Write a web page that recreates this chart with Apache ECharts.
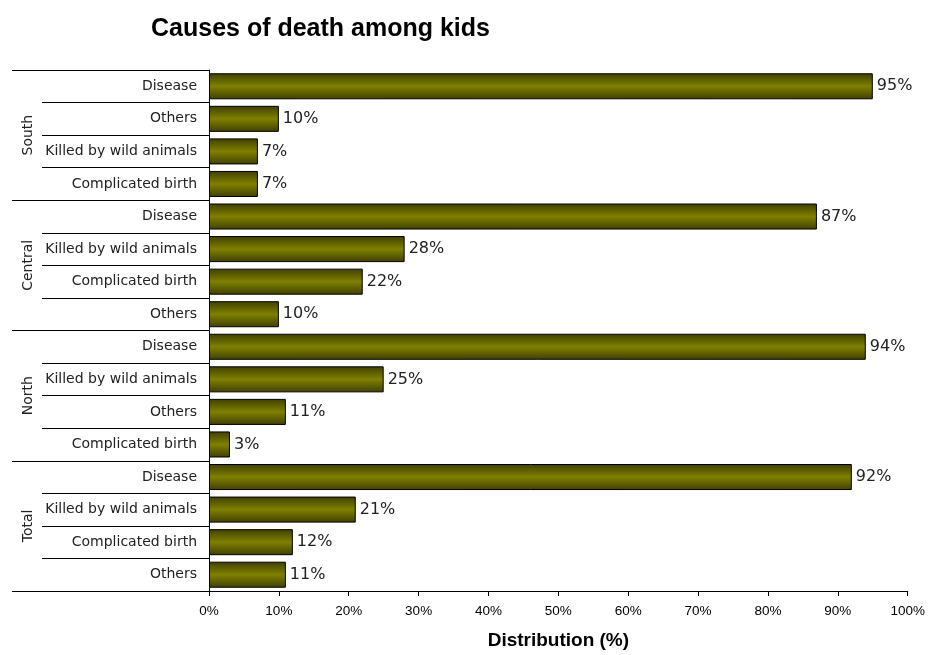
<!DOCTYPE html>
<html>
<head>
<meta charset="utf-8">
<script src="https://cdn.jsdelivr.net/npm/echarts@6/dist/echarts.min.js"></script>
<style>
  html, body { margin: 0; padding: 0; background: #fff; }
  #chart { width: 928px; height: 655px; }
</style>
</head>
<body>
<div id="chart"></div>
<script>
// Regions, top to bottom, and the causes listed under each
const regions = ['South', 'Central', 'North', 'Total'];
const southCauses   = ['Disease', 'Others', 'Killed by wild animals', 'Complicated birth'];
const southValues   = [95, 10, 7, 7];
const centralCauses = ['Disease', 'Killed by wild animals', 'Complicated birth', 'Others'];
const centralValues = [87, 28, 22, 10];
const northCauses   = ['Disease', 'Killed by wild animals', 'Others', 'Complicated birth'];
const northValues   = [94, 25, 11, 3];
const totalCauses   = ['Disease', 'Killed by wild animals', 'Complicated birth', 'Others'];
const totalValues   = [92, 21, 12, 11];
const xTicks = [0, 10, 20, 30, 40, 50, 60, 70, 80, 90, 100];

const groups = [
  [southCauses, southValues],
  [centralCauses, centralValues],
  [northCauses, northValues],
  [totalCauses, totalValues]
];

// Flatten into one row per bar; keys stay unique, labels show only the cause
const rowKeys = [];
const rowValues = [];
groups.forEach(([causes, values], g) => {
  causes.forEach((c, i) => {
    rowKeys.push(regions[g] + '|' + c);
    rowValues.push(values[i]);
  });
});

const chart = echarts.init(document.getElementById('chart'));
const labelFont = 'Verdana, "DejaVu Sans", sans-serif';
const arial = 'Arial, "Liberation Sans", sans-serif';

chart.setOption({
  animation: false,
  backgroundColor: '#ffffff',
  title: {
    text: 'Causes of death among kids',
    left: 146,
    top: 12,
    textStyle: { fontFamily: arial, fontSize: 25, fontWeight: 'bold', color: '#000' }
  },
  grid: { left: 209, right: 19, top: 70, bottom: 59 },
  xAxis: {
    type: 'value',
    min: 0,
    max: 100,
    interval: 10,
    axisLine: { show: true, lineStyle: { color: '#000', width: 1 } },
    axisTick: { show: true, length: 5, lineStyle: { color: '#000' } },
    splitLine: { show: false },
    axisLabel: {
      formatter: v => xTicks.includes(v) ? v + '%' : '',
      fontFamily: arial,
      fontSize: 13.5,
      color: '#000',
      margin: 13
    },
    name: 'Distribution (%)',
    nameLocation: 'middle',
    nameGap: 40,
    nameTextStyle: { fontFamily: arial, fontSize: 19, fontWeight: 'bold', color: '#000' }
  },
  yAxis: [
    {
      type: 'category',
      data: rowKeys,
      inverse: true,
      position: 'left',
      axisLine: { show: true, lineStyle: { color: '#000', width: 1 } },
      axisTick: { show: true, length: 167, lineStyle: { color: '#000', width: 1 } },
      axisLabel: {
        formatter: v => v.split('|')[1],
        fontFamily: labelFont,
        fontSize: 14,
        color: '#222',
        margin: 12
      }
    },
    {
      type: 'category',
      data: regions,
      inverse: true,
      position: 'left',
      offset: 0,
      axisLine: { show: false },
      axisTick: { show: true, length: 197, lineStyle: { color: '#000', width: 1 } },
      axisLabel: {
        rotate: 90,
        fontFamily: labelFont,
        fontSize: 14,
        color: '#222',
        margin: 174
      }
    }
  ],
  series: [{
    type: 'bar',
    yAxisIndex: 0,
    data: rowValues,
    barCategoryGap: '20%',
    itemStyle: {
      borderColor: '#000',
      borderWidth: 1,
      color: new echarts.graphic.LinearGradient(0, 0, 0, 1, [
        { offset: 0, color: '#3f3f00' },
        { offset: 0.5, color: '#808000' },
        { offset: 1, color: '#3f3f00' }
      ])
    },
    label: {
      show: true,
      position: 'right',
      distance: 4,
      formatter: p => p.value + '%',
      fontFamily: labelFont,
      fontSize: 16,
      color: '#222'
    }
  }]
});
</script>
</body>
</html>
